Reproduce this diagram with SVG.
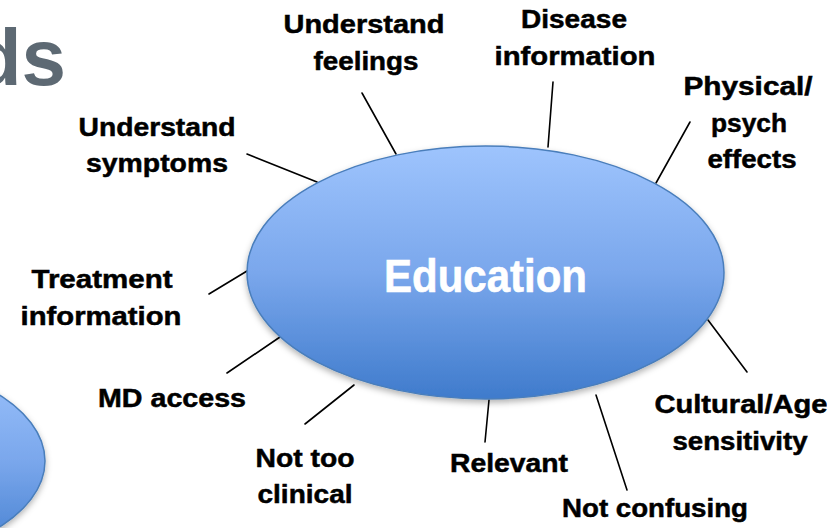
<svg xmlns="http://www.w3.org/2000/svg" width="827" height="528" viewBox="0 0 827 528">
<style>
.lbl{font-family:"Liberation Sans",Arial,sans-serif;font-weight:bold;font-size:26px;fill:#000;stroke:#000;stroke-width:0.5;text-anchor:middle}
.con line{stroke:#000;stroke-width:1.6;stroke-linecap:round}
.title{font-family:"Liberation Sans",Arial,sans-serif;font-weight:bold;font-size:80px;fill:#5d6973;text-anchor:end}
.main{font-family:"Liberation Sans",Arial,sans-serif;font-weight:bold;font-size:47px;fill:#fff;stroke:#fff;stroke-width:0.6;text-anchor:middle}
</style>
<defs>
<linearGradient id="blue" x1="0" y1="0" x2="0" y2="1">
<stop offset="0" stop-color="#9ec4fd"/>
<stop offset="0.5" stop-color="#7aa7ec"/>
<stop offset="1" stop-color="#3f7bcc"/>
</linearGradient>
<filter id="sh" x="-10%" y="-10%" width="120%" height="130%">
<feDropShadow dx="0" dy="3" stdDeviation="3" flood-color="#000" flood-opacity="0.3"/>
</filter>
</defs>
<rect width="827" height="528" fill="#fff"/>
<text class="title" x="66" y="85">ds</text>
<g id="side-ellipse">
<ellipse cx="-155" cy="461" rx="200" ry="104" fill="url(#blue)" stroke="#4a7ebb" stroke-width="1.5" filter="url(#sh)"/>
</g>
<g id="connectors" class="con">
<line x1="362" y1="93" x2="396" y2="154"/>
<line x1="553" y1="82" x2="548" y2="147"/>
<line x1="690" y1="122" x2="656" y2="183"/>
<line x1="247" y1="154" x2="317" y2="182"/>
<line x1="209" y1="294" x2="247" y2="271"/>
<line x1="227" y1="373" x2="280" y2="337"/>
<line x1="305" y1="424" x2="354" y2="385"/>
<line x1="485" y1="442" x2="489" y2="400"/>
<line x1="596" y1="395" x2="627" y2="490"/>
<line x1="708" y1="320" x2="747" y2="372"/>
</g>
<g id="education">
<ellipse cx="485.5" cy="272.5" rx="238.5" ry="126.5" fill="url(#blue)" stroke="#4a7ebb" stroke-width="1.5" filter="url(#sh)"/>
<text class="main" x="485.5" y="292" textLength="203" lengthAdjust="spacingAndGlyphs">Education</text>
</g>
<g id="understand-feelings">
<text class="lbl" x="364" y="33" textLength="161" lengthAdjust="spacingAndGlyphs">Understand</text>
<text class="lbl" x="366" y="70" textLength="105" lengthAdjust="spacingAndGlyphs">feelings</text>
</g>
<g id="disease-information">
<text class="lbl" x="574" y="28" textLength="106" lengthAdjust="spacingAndGlyphs">Disease</text>
<text class="lbl" x="575" y="65" textLength="161" lengthAdjust="spacingAndGlyphs">information</text>
</g>
<g id="physical-psych-effects">
<text class="lbl" x="748" y="95" textLength="129" lengthAdjust="spacingAndGlyphs">Physical/</text>
<text class="lbl" x="749" y="132" textLength="76" lengthAdjust="spacingAndGlyphs">psych</text>
<text class="lbl" x="752" y="168" textLength="89" lengthAdjust="spacingAndGlyphs">effects</text>
</g>
<g id="understand-symptoms">
<text class="lbl" x="157" y="136" textLength="157" lengthAdjust="spacingAndGlyphs">Understand</text>
<text class="lbl" x="157" y="172" textLength="142" lengthAdjust="spacingAndGlyphs">symptoms</text>
</g>
<g id="treatment-information">
<text class="lbl" x="102" y="288" textLength="141" lengthAdjust="spacingAndGlyphs">Treatment</text>
<text class="lbl" x="101" y="325" textLength="161" lengthAdjust="spacingAndGlyphs">information</text>
</g>
<g id="md-access">
<text class="lbl" x="172" y="407" textLength="148" lengthAdjust="spacingAndGlyphs">MD access</text>
</g>
<g id="not-too-clinical">
<text class="lbl" x="305" y="467" textLength="99" lengthAdjust="spacingAndGlyphs">Not too</text>
<text class="lbl" x="305" y="503" textLength="95" lengthAdjust="spacingAndGlyphs">clinical</text>
</g>
<g id="relevant">
<text class="lbl" x="509" y="472" textLength="118" lengthAdjust="spacingAndGlyphs">Relevant</text>
</g>
<g id="not-confusing">
<text class="lbl" x="655" y="517" textLength="186" lengthAdjust="spacingAndGlyphs">Not confusing</text>
</g>
<g id="cultural-age-sensitivity">
<text class="lbl" x="741" y="413" textLength="173" lengthAdjust="spacingAndGlyphs">Cultural/Age</text>
<text class="lbl" x="740" y="450" textLength="135" lengthAdjust="spacingAndGlyphs">sensitivity</text>
</g>
</svg>
